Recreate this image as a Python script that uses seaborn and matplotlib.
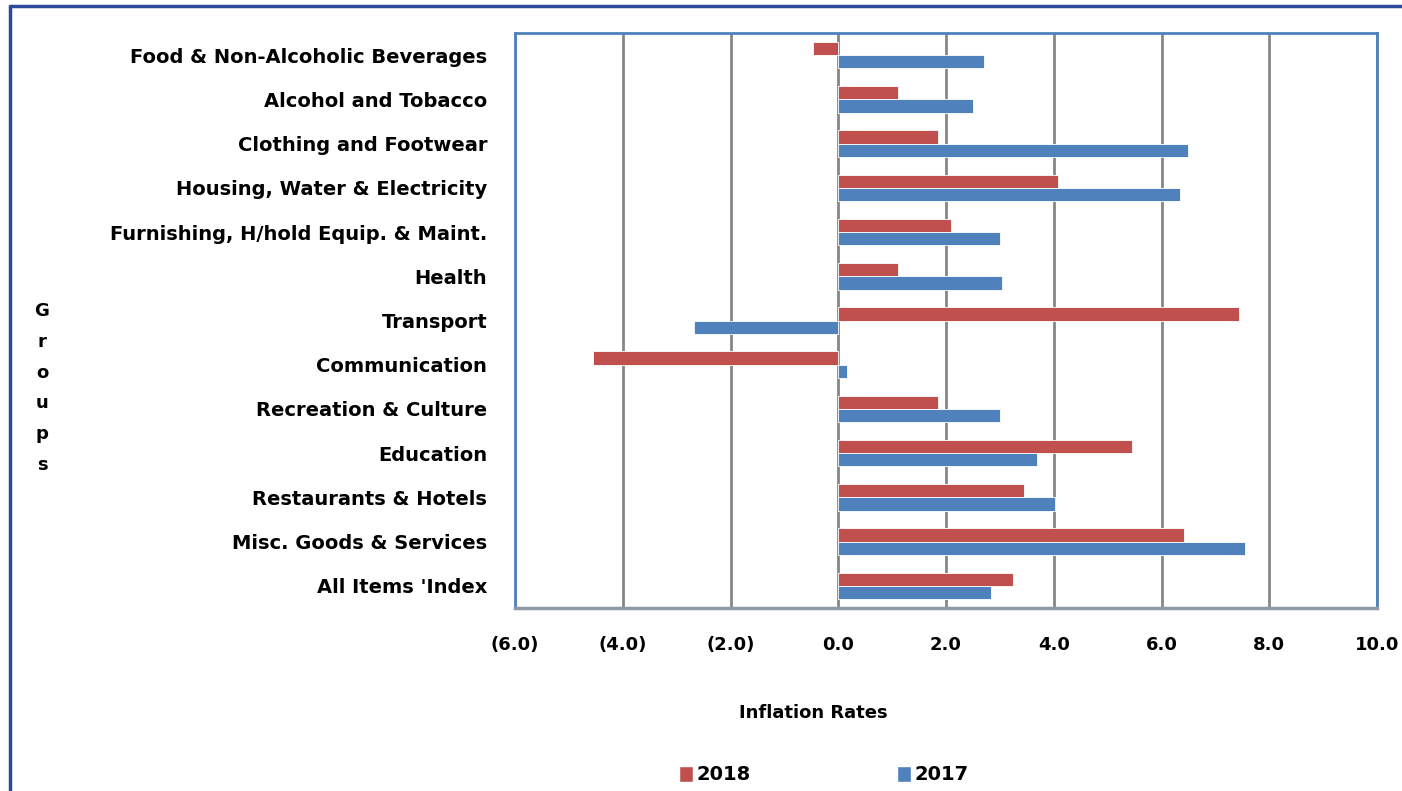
import pandas as pd
import seaborn as sns
import matplotlib.pyplot as plt
from matplotlib.lines import Line2D
from matplotlib.patches import Patch
from matplotlib.ticker import FuncFormatter, MultipleLocator

# Data
groups = [
    "Food & Non-Alcoholic Beverages",
    "Alcohol and Tobacco",
    "Clothing and Footwear",
    "Housing, Water & Electricity",
    "Furnishing, H/hold Equip. & Maint.",
    "Health",
    "Transport",
    "Communication",
    "Recreation & Culture",
    "Education",
    "Restaurants & Hotels",
    "Misc. Goods & Services",
    "All Items 'Index",
]
rates_2018 = [-0.47, 1.1, 1.86, 4.08, 2.1, 1.1, 7.44, -4.56, 1.86, 5.46, 3.44, 6.41, 3.24]
rates_2017 = [2.7, 2.5, 6.5, 6.35, 3.0, 3.04, -2.68, 0.17, 3.0, 3.69, 4.02, 7.55, 2.84]
years = ["2018", "2017"]
colors = {"2018": "#C0504D", "2017": "#4F81BD"}

df = pd.DataFrame({
    "group": groups * 2,
    "year": ["2018"] * len(groups) + ["2017"] * len(groups),
    "rate": rates_2018 + rates_2017,
})

sns.set_theme(style="white")
plt.rcParams['font.family'] = ['DejaVu Sans']
plt.rcParams['font.weight'] = 'bold'
plt.rcParams['text.color'] = 'black'
plt.rcParams['xtick.color'] = 'black'
plt.rcParams['ytick.color'] = 'black'

fig = plt.figure(figsize=(14.02, 7.91), dpi=100)
ax = fig.add_axes([515 / 1402, 1 - 608 / 791, 862 / 1402, 575 / 791])

sns.barplot(data=df, y="group", x="rate", hue="year", hue_order=years,
            order=groups, palette=colors, saturation=1, width=0.6, orient="h",
            edgecolor="white", linewidth=0.6, ax=ax, legend=False, zorder=3)

ax.set_xlim(-6, 10)
ax.xaxis.set_major_locator(MultipleLocator(2))
ax.xaxis.set_major_formatter(FuncFormatter(
    lambda v, p: f"({abs(v):.1f})" if v < 0 else f"{v:.1f}"))
ax.grid(axis="x", color="#868686", linewidth=2, zorder=0)
ax.set_axisbelow(True)

for side in ["top", "left", "right"]:
    ax.spines[side].set_color("#4F81BD")
    ax.spines[side].set_linewidth(2)
ax.spines["bottom"].set_color("#8E9AA8")
ax.spines["bottom"].set_linewidth(2.5)

ax.tick_params(axis="y", length=0, pad=20, labelsize=14, labelcolor="black")
ax.tick_params(axis="x", length=0, pad=20, labelsize=13, labelcolor="black")
for lbl in ax.get_yticklabels() + ax.get_xticklabels():
    lbl.set_fontweight("bold")
ax.set_xlabel("")
ax.set_ylabel("")

fig.text(813 / 1402, 1 - 713 / 791, "Inflation Rates", ha="center", va="center",
         fontsize=13, fontweight="bold")
fig.text(42 / 1402, 1 - 388 / 791, "G\nr\no\nu\np\ns", ha="center", va="center",
         fontsize=13, fontweight="bold", linespacing=1.9)

handles = [Patch(facecolor=colors[y], label=y) for y in years]
fig.legend(handles=handles, loc="center", bbox_to_anchor=(824 / 1402, 1 - 775 / 791),
           ncol=2, frameon=False, handlelength=0.7, handleheight=0.9,
           handletextpad=0.2, columnspacing=7.5, prop={"size": 14, "weight": "bold"})

# outer chart frame
fig.add_artist(Line2D([10 / 1402, 10 / 1402], [0, 1 - 6 / 791], color="#2B4A9C",
                      linewidth=2.5, transform=fig.transFigure))
fig.add_artist(Line2D([10 / 1402, 1], [1 - 6 / 791, 1 - 6 / 791], color="#2B4A9C",
                      linewidth=2.5, transform=fig.transFigure))

fig.savefig("out.png", dpi=100, facecolor="white")
